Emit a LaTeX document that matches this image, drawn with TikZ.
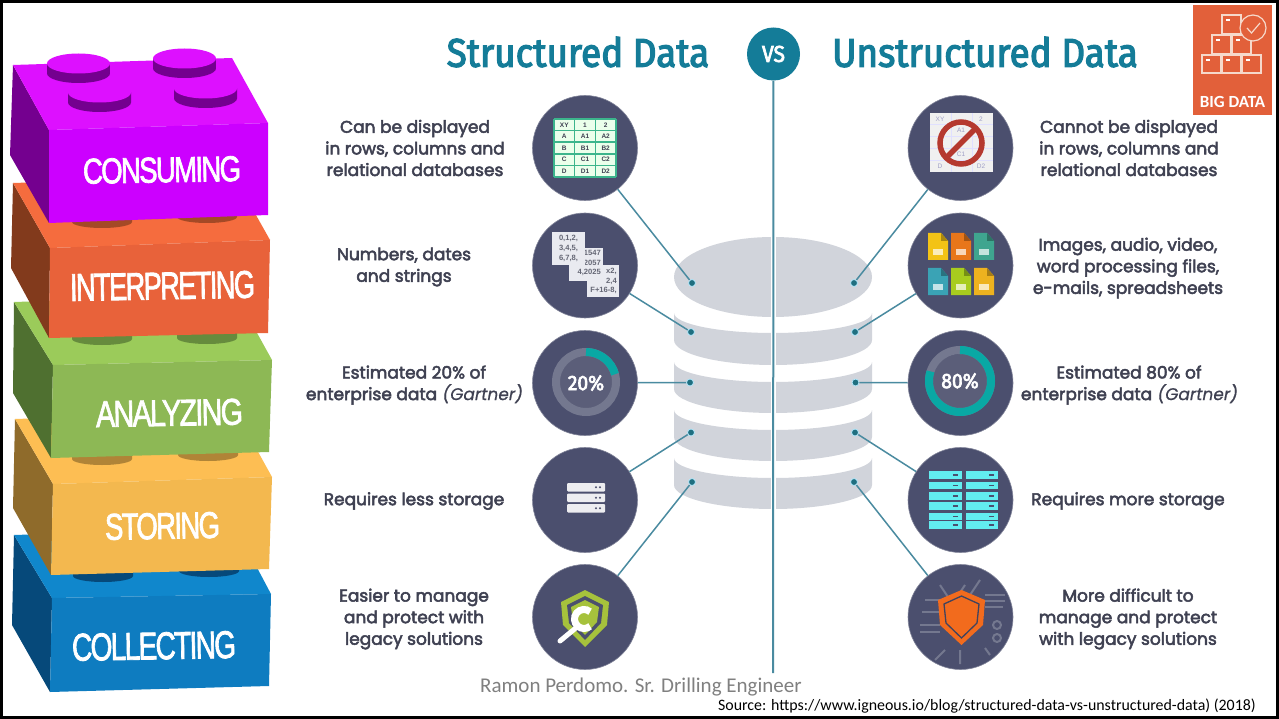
\documentclass[tikz,border=0pt]{standalone}
\usepackage{fontspec}
\usepackage{graphicx}
\setmainfont{Liberation Sans}
\newfontfamily\bodyf[FakeBold=3]{Poppins}
\newfontfamily\itf[FakeSlant=0.18,FakeBold=0.6]{Poppins}
\newfontfamily\titlef[FakeStretch=0.92,FakeBold=3]{Fira Sans}
\newfontfamily\brickf[FakeBold=2.2,LetterSpace=-6]{Liberation Sans}
\newfontfamily\calf{Carlito}
\definecolor{disc}{HTML}{4B4F6E}
\definecolor{ink}{HTML}{3F4152}
\definecolor{tealA}{HTML}{147C98}
\definecolor{lineT}{HTML}{4A8BA0}
\definecolor{dotT}{HTML}{1F6F80}
\definecolor{cyl}{HTML}{D1D4DB}
\definecolor{ringG}{HTML}{74788F}
\definecolor{ringI}{HTML}{5B5E79}
\definecolor{ringT}{HTML}{09A8A4}
\definecolor{peach}{HTML}{F6D9CB}
\definecolor{badge}{HTML}{E2603A}
\definecolor{gridG}{HTML}{3CB58C}
\definecolor{lime1}{HTML}{A6C23C}
\definecolor{noRed}{HTML}{B5392F}
\definecolor{srv}{HTML}{62EDF0}
\definecolor{shO}{HTML}{F26B1D}
\definecolor{paper}{HTML}{E9EAF0}
\definecolor{conT}{HTML}{DD10FF}\definecolor{conF}{HTML}{CC00FF}\definecolor{conL}{HTML}{74008F}
\definecolor{intT}{HTML}{F56C3E}\definecolor{intF}{HTML}{E8623A}\definecolor{intL}{HTML}{823A1C}
\definecolor{anaT}{HTML}{9BCB5A}\definecolor{anaF}{HTML}{8DB855}\definecolor{anaL}{HTML}{4F7030}
\definecolor{stoT}{HTML}{FDBE53}\definecolor{stoF}{HTML}{F3B84F}\definecolor{stoL}{HTML}{8F6B2B}
\definecolor{colT}{HTML}{1087CC}\definecolor{colF}{HTML}{0E7CC0}\definecolor{colL}{HTML}{06497A}
\tikzset{
  circ/.style={circle,fill=disc,draw=disc!70!white,line width=.6pt,minimum size=105pt,inner sep=0pt},
  dotn/.style={circle,fill=dotT,draw=cyan!30!white,line width=.8pt,minimum size=7pt,inner sep=0pt},
  conn/.style={lineT,line width=1.5pt},
  lab/.style={font=\bodyf\fontsize{17}{21.6}\selectfont,text=ink,align=center,inner sep=0pt},
  ttl/.style={font=\titlef\fontsize{40}{44}\selectfont,text=tealA,inner sep=0pt},
  bricklab/.style={text=white,inner sep=0pt,rotate=1},
  tiny/.style={font=\bfseries\fontsize{6.5}{7.5}\selectfont,text=ink,inner sep=0pt,align=center},
  strs/.style={font=\bfseries\fontsize{7.6}{9.6}\selectfont,text=ink!80,inner sep=0pt,align=right},
  faint/.style={font=\fontsize{6.5}{7.5}\selectfont,text=blue!25!gray!60!white,inner sep=0pt},
  boxl/.style={peach,line width=1.2pt},
  pct/.style={font=\titlef\fontsize{21}{21}\selectfont,text=white,inner sep=0pt},
}
\newcommand{\brick}[8]{%
  \fill[#8L] #1 -- #4 -- #5 -- #7 -- cycle;
  \fill[#8T] #1 -- #2 -- #3 -- #4 -- cycle;
  \fill[#8F] #4 -- #3 -- #6 -- #5 -- cycle;}
\newcommand{\studbody}[8]{%
  \path[left color=#6,middle color=#7,right color=#8]
    ({#1-#3},{#2-#4-#5}) -- ({#1-#3},{#2-#4})
    .. controls ({#1-#3},{#2-.45*#4}) and ({#1-.55*#3},#2) .. (#1,#2)
    .. controls ({#1+.55*#3},#2) and ({#1+#3},{#2-.45*#4}) .. ({#1+#3},{#2-#4})
    -- ({#1+#3},{#2-#4-#5}) -- cycle;}
\newcommand{\cylband}[4]{%
  \fill[cyl] (674,#1) .. controls (674,{#1+.55*(#2-#1)}) and (719,#2) .. (773,#2)
    .. controls (827,#2) and (872,{#1+.55*(#2-#1)}) .. (872,#1)
    -- (872,#3) .. controls (872,{#3+.55*(#4-#3)}) and (827,#4) .. (773,#4)
    .. controls (719,#4) and (674,{#3+.55*(#4-#3)}) .. (674,#3) -- cycle;}
\newcommand{\fileicon}[3]{%
  \fill[#3] (#1,#2) -- ({#1+13},#2) -- ({#1+20},{#2+8}) -- ({#1+20},{#2+27}) -- (#1,{#2+27}) -- cycle;
  \fill[#3!70!black] ({#1+13},#2) -- ({#1+20},{#2+8}) -- ({#1+13},{#2+8}) -- cycle;
  \fill[white,opacity=.7] ({#1+5},{#2+16}) rectangle ({#1+15},{#2+22});}
\begin{document}
\begin{tikzpicture}[x=1pt,y=-1pt]
\useasboundingbox (0,0) rectangle (1279,719);
\fill[white] (0,0) rectangle (1279,719);

% ---------- bricks, bottom to top ----------
\brick{(14,535)}{(236,528)}{(271,594)}{(52,598)}{(50,692)}{(269,686)}{(12,625)}{col}
\studbody{103}{582}{30}{6}{20}{colL}{colT!70!white}{colL}
\studbody{209}{577}{30}{6}{20}{colL}{colT!70!white}{colL}
\brick{(15,419)}{(236,412)}{(272,477)}{(53,484)}{(51,575)}{(269,569)}{(13,508)}{sto}
\studbody{102}{465}{30}{6}{20}{stoL!70!stoT}{stoT!80!white}{stoL!70!stoT}
\studbody{208}{461}{30}{6}{20}{stoL!70!stoT}{stoT!80!white}{stoL!70!stoT}
\brick{(14,302)}{(236,295)}{(272,360)}{(53,365)}{(51,458)}{(269,452)}{(13,393)}{ana}
\studbody{102}{345}{30}{6}{20}{anaL!70!anaT}{anaT!80!white}{anaL!70!anaT}
\studbody{207}{344}{30}{6}{20}{anaL!70!anaT}{anaT!80!white}{anaL!70!anaT}
\brick{(13,183)}{(234,176)}{(270,240)}{(50,248)}{(49,338)}{(268,333)}{(11,268)}{int}
\studbody{102}{228}{30}{6}{20}{intL!70!intT}{intT!80!white}{intL!70!intT}
\studbody{207}{223}{30}{6}{20}{intL!70!intT}{intT!80!white}{intL!70!intT}
\brick{(13,65)}{(232,58)}{(268,123)}{(49,130)}{(49,223)}{(268,215)}{(10,155)}{con}
\studbody{78.5}{83}{31.5}{9.5}{10}{conL}{conT}{conL}
\fill[conT] (78.5,63.5) ellipse [x radius=31.5,y radius=10];
\studbody{184.5}{78}{31.5}{9.5}{10}{conL}{conT}{conL}
\fill[conT] (184.5,58.5) ellipse [x radius=31.5,y radius=10];
\studbody{99.5}{112}{31.5}{9.5}{10}{conL}{conT}{conL}
\fill[conT] (99.5,92.5) ellipse [x radius=31.5,y radius=10];
\studbody{205.5}{108}{31.5}{9.5}{10}{conL}{conT}{conL}
\fill[conT] (205.5,88.5) ellipse [x radius=31.5,y radius=10];

\node[bricklab] (bConsuming) at (162,170) {\resizebox{158pt}{25pt}{\brickf CONSUMING}};
\node[bricklab] (bInterpreting) at (162.5,286) {\resizebox{185pt}{27pt}{\brickf INTERPRETING}};
\node[bricklab] (bAnalyzing) at (169.5,413) {\resizebox{147pt}{26pt}{\brickf ANALYZING}};
\node[bricklab] (bStoring) at (162.5,526) {\resizebox{115pt}{26pt}{\brickf STORING}};
\node[bricklab] (bCollecting) at (154,646) {\resizebox{164pt}{27pt}{\brickf COLLECTING}};

% ---------- cylinder ----------
\fill[cyl] (773,277) ellipse [x radius=99,y radius=40];
\cylband{313}{333}{340}{365}
\cylband{362}{382}{389}{413}
\cylband{410}{430}{437}{461}
\cylband{458}{478}{485}{509}

% ---------- centre axis ----------
\node[circle,fill=tealA,minimum size=53pt,inner sep=0pt,text=white,font=\titlef\fontsize{23}{23}\selectfont] (vs) at (773.5,54) {VS};
\coordinate (axisEnd) at (773,673);
\draw[white,line width=5pt] (773,230) -- (773,515);
\draw[lineT,line width=2pt] (vs) -- (axisEnd);

% ---------- discs ----------
\node[circ] (L1) at (585,148) {};
\node[circ] (L2) at (585,265.5) {};
\node[circ] (L3) at (585,383) {};
\node[circ] (L4) at (585,500) {};
\node[circ] (L5) at (585,617) {};
\node[circ] (R1) at (960.5,148) {};
\node[circ] (R2) at (960.5,265.5) {};
\node[circ] (R3) at (960.5,383) {};
\node[circ] (R4) at (960.5,500) {};
\node[circ] (R5) at (960.5,617) {};

% ---------- dots and connectors ----------
\node[dotn] (dL1) at (692,283) {};
\node[dotn] (dL2) at (691,332) {};
\node[dotn] (dL3) at (690,382.5) {};
\node[dotn] (dL4) at (691,432.5) {};
\node[dotn] (dL5) at (692,482) {};
\node[dotn] (dR1) at (854,283) {};
\node[dotn] (dR2) at (855,332) {};
\node[dotn] (dR3) at (855.5,382.5) {};
\node[dotn] (dR4) at (855,432.5) {};
\node[dotn] (dR5) at (854,482) {};
\foreach \i in {1,...,5}{
  \draw[conn] (L\i) -- (dL\i);
  \draw[conn] (R\i) -- (dR\i);
}

% ---------- icon: table ----------
\fill[white!92!green] (554,119) rectangle (616,177);
\foreach \x in {554,574.67,595.33,616} \draw[gridG,line width=1.5pt] (\x,119) -- (\x,177);
\foreach \y in {119,130.6,142.2,153.8,165.4,177} \draw[gridG,line width=1.5pt] (554,\y) -- (616,\y);
\foreach \n/\x/\y/\t in {a/564.3/124.8/XY,b/585/124.8/1,c/605.7/124.8/2,d/564.3/136.4/A,e/585/136.4/A1,f/605.7/136.4/A2,g/564.3/148/B,h/585/148/B1,i/605.7/148/B2,j/564.3/159.6/C,k/585/159.6/C1,l/605.7/159.6/C2,m/564.3/171.2/D,n/585/171.2/D1,o/605.7/171.2/D2}
  \node[tiny] (tab\n) at (\x,\y) {\t};

% ---------- icon: strings (third sheet lowest) ----------
\fill[paper] (587,265) rectangle (619,297);
\node[strs,anchor=north east] (s3) at (617,268) {x2,\\2,4\\F+16-8,};
\fill[paper] (569,248) rectangle (603,281);
\node[strs,anchor=north east] (s2) at (601,250) {1547\\2057\\4,2025};
\fill[paper] (552,232) rectangle (585,265);
\node[strs,align=left] (s1) at (568.5,248.5) {0,1,2,\\3,4,5,\\6,7,8,};

% ---------- icon: rings ----------
\fill[ringI] (586,382) circle [radius=27];
\draw[ringG,line width=8pt] (586,382) circle [radius=30];
\draw[ringT,line width=8pt] (586,352) arc [start angle=-90,end angle=-15,radius=30];
\node[pct] (p20) at (586,383) {20\%};
\fill[ringI] (960,381) circle [radius=27];
\draw[ringG,line width=8pt] (960,381) circle [radius=31];
\draw[ringT,line width=8pt] (960,350) arc [start angle=-90,end angle=198,radius=31];
\node[pct] (p80) at (960,381) {80\%};

% ---------- icon: small server ----------
\foreach \y in {483,493.5,504}{
  \fill[white!90!disc,rounded corners=1pt] (567,\y) rectangle (605,{\y+8.5});
  \fill[disc] (596,{\y+4.2}) circle [radius=1.1];
  \fill[disc] (600,{\y+4.2}) circle [radius=1.1];
}

% ---------- icon: green shield ----------
\fill[lime1] (585,590) -- (609,602) -- (607,625) -- (585,647) -- (563,625) -- (561,602) -- cycle;
\fill[disc] (585,596) -- (603,605) -- (601,623) -- (585,640) -- (569,623) -- (567,605) -- cycle;
\fill[lime1] (585,600) -- (599,607) -- (597,622) -- (585,635) -- (573,622) -- (571,607) -- cycle;
\draw[white,line width=5pt,line cap=round] (577,627) -- (560,641);
\draw[white,line width=7pt] (590.1,611.7) arc [start angle=-50,end angle=-310,radius=9.5];

% ---------- icon: no table ----------
\fill[white!94!black] (930,113) rectangle (993,172);
\draw[blue!12!white,line width=.6pt] (930,124) -- (993,124) (930,136) -- (993,136) (930,148) -- (993,148) (930,160) -- (993,160) (951,113) -- (951,172) (972,113) -- (972,172);
\foreach \n/\x/\y/\t in {a/940/119/XY,b/981/119/2,c/961/130/A1,d/961/154/C1,e/940/166/D,f/981/166/D2}
  \node[faint] (ftab\n) at (\x,\y) {\t};
\draw[noRed,line width=5.5pt] (961,143) circle [radius=21];
\draw[noRed,line width=5.5pt] (976,128) -- (946,158);

% ---------- icon: files ----------
\definecolor{f1}{HTML}{F3C316}\definecolor{f2}{HTML}{E8761A}\definecolor{f3}{HTML}{3FA58F}
\definecolor{f4}{HTML}{3AA3B5}\definecolor{f5}{HTML}{A8CC1E}\definecolor{f6}{HTML}{EDB21F}
\fileicon{928}{233}{f1}
\fileicon{951}{233}{f2}
\fileicon{974}{233}{f3}
\fileicon{928}{268}{f4}
\fileicon{951}{268}{f5}
\fileicon{974}{268}{f6}

% ---------- icon: large server ----------
\foreach \y in {471,481.5,492,502,512.5,521}{
  \fill[srv] (929,\y) rectangle (962,{\y+7.5});
  \fill[srv] (966,\y) rectangle (998,{\y+7.5});
  \fill[disc] (953,{\y+3}) rectangle (958,{\y+4.5});
  \fill[disc] (989,{\y+3}) rectangle (994,{\y+4.5});
}

% ---------- icon: orange shield ----------
\draw[ringG,line width=1.4pt] (925,600) -- (945,600) (922,612) -- (940,612) (920,625) -- (940,625) (920,632) -- (940,632) (985,595) -- (1005,595) (985,601) -- (1005,601) (985,607) -- (1003,607);
\draw[ringG,line width=2pt] (997,625) circle [radius=4] (997,638) circle [radius=4] (940,585) -- (950,600) (965,585) -- (955,600) (980,580) -- (970,595) (945,650) -- (935,660) (960,650) -- (960,664) (985,648) -- (990,655);
\fill[shO] (961.5,590) -- (985,600) -- (983,625) -- (961.5,645) -- (940,625) -- (938,600) -- cycle;
\draw[disc!85!black,line width=1.3pt] (961.5,596) -- (979,604) -- (977,623) -- (961.5,638) -- (946,623) -- (944,604) -- cycle;

% ---------- texts ----------
\node[ttl] (tStruct) at (578,52) {Structured Data};
\node[ttl] (tUnstruct) at (985,52) {Unstructured Data};
\node[lab] (txL1) at (415,148) {Can be displayed\\in rows, columns and\\relational databases};
\node[lab] (txL2) at (404,267) {Numbers, dates\\and strings};
\node[lab] (txL3) at (414,385) {Estimated 20\% of\\enterprise data {\itf (Gartner)}};
\node[lab] (txL4) at (414,501) {Requires less storage};
\node[lab] (txL5) at (414,619) {Easier to manage\\and protect with\\legacy solutions};
\node[lab] (txR1) at (1129,148) {Cannot be displayed\\in rows, columns and\\relational databases};
\node[lab] (txR2) at (1128,268) {Images, audio, video,\\word processing files,\\e-mails, spreadsheets};
\node[lab] (txR3) at (1129,385) {Estimated 80\% of\\enterprise data {\itf (Gartner)}};
\node[lab] (txR4) at (1128,501) {Requires more storage};
\node[lab] (txR5) at (1128,619) {More difficult to\\manage and protect\\with legacy solutions};

% ---------- badge ----------
\fill[badge] (1193,5) rectangle (1272,115);
\draw[boxl] (1202,55) rectangle (1221,73) (1222,55) rectangle (1241,73) (1242,55) rectangle (1261,73)
  (1212,35) rectangle (1231,54) (1232,35) rectangle (1251,54) (1222,15) rectangle (1241,34);
\foreach \x/\y in {1206/59,1226/59,1246/59,1216/39,1236/39,1226/19}
  \fill[white] (\x,\y) rectangle ({\x+4},{\y+2.5});
\fill[badge] (1253,28) circle [radius=13];
\draw[boxl] (1253,28) circle [radius=13];
\draw[boxl] (1247,28) -- (1251.5,33) -- (1260,23);
\node[inner sep=0pt,text=white,font=\bfseries\calf\fontsize{17}{17}\selectfont] (bigdata) at (1232.5,102) {BIG DATA};

% ---------- footer ----------
\node[inner sep=0pt,anchor=base west,text=black!50,font=\calf\fontsize{21}{21}\selectfont] (ramon) at (480,692) {Ramon Perdomo. Sr. Drilling Engineer};
\node[inner sep=0pt,anchor=base east,text=black,font=\calf\fontsize{15.9}{16}\selectfont] (source) at (1256,710) {Source: https://www.igneous.io/blog/structured-data-vs-unstructured-data) (2018)};

% ---------- frame ----------
\draw[black,line width=2.6pt] (1.3,1.3) rectangle (1277.7,717.2);
\end{tikzpicture}
\end{document}
